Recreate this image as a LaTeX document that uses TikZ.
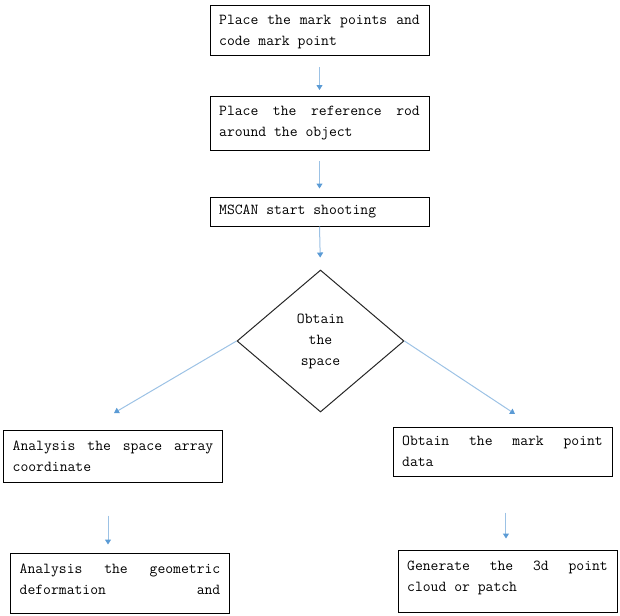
\documentclass[tikz,border=0pt]{standalone}
\usepackage{fontspec}
\usetikzlibrary{shapes.geometric,arrows.meta}
\definecolor{arrline}{RGB}{156,194,229}
\definecolor{arrtip}{RGB}{91,155,213}
\AtBeginDocument{{\ttfamily\fontsize{11.43}{15.75}\selectfont\global\fontdimen3\font=4pt\relax\global\fontdimen4\font=0pt\relax}}
\tikzset{
  txtfont/.style={font=\ttfamily\fontsize{11.43}{15.75}\selectfont},
  box/.style={txtfont, draw=black, line width=0.75pt, rectangle, text width=150.5pt, align=justify, inner xsep=6.75pt, inner ysep=0pt, minimum width=164.25pt,
    execute at begin node={\hyphenpenalty=10000\relax\tolerance=10000\relax}},
  dec/.style={txtfont, draw=black!85, line width=0.75pt, diamond, align=center, inner sep=0pt, minimum width=125.25pt, minimum height=106.5pt},
  arr/.style={draw=arrline, line width=0.75pt, -{Triangle[length=3.75pt,width=4.5pt,color=arrtip]}}
}
\begin{document}
\begin{tikzpicture}[x=0.75pt,y=-0.75pt]
\useasboundingbox (0,0) rectangle (620,615);
\node[box, minimum height=37.5pt, text height=10pt] (b1) at (319.5,30.5) {Place the mark points and code mark point};
\node[box, minimum height=40.5pt] (b2) at (319.5,123.5) {Place the reference rod around the object};
\node[box, minimum height=21.75pt] (b3) at (319.5,211.5) {MSCAN start shooting};
\node[dec] (d) at (320.5,341) {Obtain\\the\\space};
\node[box, minimum height=39pt] (l1) at (113,456) {Analysis the space array coordinate};
\node[box, minimum height=36.75pt] (r1) at (502.5,451.5) {Obtain the mark point data};
\node[box, minimum height=45pt, text depth=21.75pt] (l2) at (120,583) {Analysis the geometric deformation\hfill and};
\node[box, minimum height=46.5pt, text depth=23.25pt] (r2) at (507.5,581) {Generate the 3d point cloud or patch};
\coordinate (lt) at (114,413);
\coordinate (rt) at (515,414);
\draw[arr, shorten <=8.25pt, shorten >=4.5pt] (b1.south) -- (b2.north);
\draw[arr, shorten <=7.5pt, shorten >=6pt] (b2.south) -- (b3.north);
\draw[arr, shorten >=9pt] (b3.south) -- (d.north);
\draw[arr] (d.west) -- (lt);
\draw[arr] (d.east) -- (rt);
\draw[arr, shorten <=24.75pt, shorten >=6pt] ([xshift=-3.75pt]l1.south) -- ([xshift=-3.75pt]l1.south |- l2.north);
\draw[arr, shorten <=27pt, shorten >=8.25pt] ([xshift=2.6pt]r1.south) -- ([xshift=2.6pt]r1.south |- r2.north);
\end{tikzpicture}
\end{document}
